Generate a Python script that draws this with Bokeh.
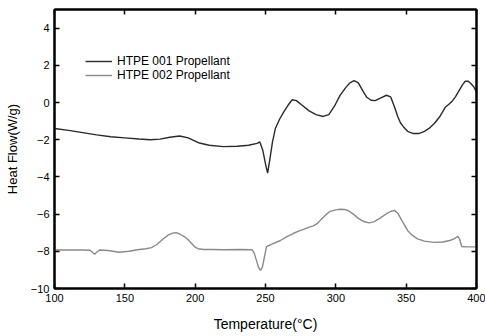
from bokeh.plotting import figure
from bokeh.models import FixedTicker, LinearAxis, Range1d, Legend, LegendItem
from bokeh.embed import file_html
from bokeh.resources import INLINE

# HTPE 001 Propellant
t1 = [100, 110, 120, 130, 140, 150, 160, 168, 175, 182, 189, 195, 203, 210, 220, 230,
      238, 244, 246, 248, 250, 251.5, 253, 255, 257, 260, 263, 266, 269, 272, 276, 281,
      286, 291, 295, 299, 303, 307, 310, 313, 316, 319, 322, 325, 328, 332, 336, 339,
      342, 344, 346, 348, 351, 355, 359, 363, 367, 370, 374, 378, 381, 383, 385, 387,
      390, 392, 394, 396, 398, 400]
y1 = [-1.4, -1.5, -1.62, -1.74, -1.84, -1.9, -1.96, -2.0, -1.97, -1.87, -1.8, -1.9,
      -2.18, -2.3, -2.37, -2.35, -2.3, -2.2, -2.12, -2.55, -3.3, -3.8, -3.1, -2.1,
      -1.4, -0.9, -0.5, -0.15, 0.15, 0.1, -0.15, -0.45, -0.65, -0.75, -0.65, -0.2,
      0.38, 0.8, 1.05, 1.17, 1.05, 0.65, 0.28, 0.12, 0.1, 0.25, 0.39, 0.3, -0.3,
      -0.75, -1.1, -1.3, -1.55, -1.67, -1.67, -1.55, -1.35, -1.13, -0.75, -0.24,
      -0.05, 0.1, 0.3, 0.56, 0.95, 1.14, 1.15, 1.02, 0.85, 0.55]

# HTPE 002 Propellant
t2 = [100, 110, 120, 125, 127, 128.5, 130, 132, 138, 146, 153, 159, 165, 169, 173,
      177, 181, 184, 186.5, 189, 192.5, 195, 197, 200, 202, 206, 212, 220, 232, 240.5,
      242, 243.6, 245, 246.4, 247.8, 249, 250.7, 255, 260.6, 265, 270, 274, 277, 281,
      284, 287, 290, 293, 296, 300, 303, 306, 309, 313, 316, 320, 323.5, 327, 331.5,
      336, 339, 341.7, 344, 347, 351, 354, 358, 363, 369.6, 376, 381, 384, 386.7,
      388, 389.5, 393, 400]
y2 = [-7.93, -7.93, -7.93, -7.94, -8.05, -8.16, -8.05, -7.93, -7.96, -8.05, -8.0,
      -7.92, -7.86, -7.8, -7.62, -7.35, -7.12, -7.02, -7.0, -7.07, -7.22, -7.38, -7.54,
      -7.78, -7.86, -7.9, -7.9, -7.92, -7.9, -7.92, -8.1, -8.5, -8.85, -9.02, -8.85,
      -8.4, -7.75, -7.6, -7.42, -7.23, -7.03, -6.9, -6.82, -6.7, -6.63, -6.5, -6.25,
      -6.03, -5.85, -5.77, -5.74, -5.75, -5.82, -6.03, -6.23, -6.4, -6.47, -6.42,
      -6.22, -5.98, -5.86, -5.8, -5.95, -6.35, -6.88, -7.12, -7.33, -7.45, -7.52,
      -7.5, -7.42, -7.33, -7.2, -7.35, -7.74, -7.76, -7.76]

x_ticks = [100, 150, 200, 250, 300, 350, 400]
y_ticks = [-10, -8, -6, -4, -2, 0, 2, 4]

FONT = "Liberation Sans"

p = figure(width=485, height=336, output_backend="svg", toolbar_location=None,
           x_range=Range1d(100, 400), y_range=Range1d(-10, 5),
           min_border_left=54, min_border_right=9, min_border_top=9,
           min_border_bottom=48)
p.xgrid.visible = False
p.ygrid.visible = False
p.outline_line_color = "black"
p.outline_line_width = 2
p.background_fill_color = "white"
p.border_fill_color = "white"

r1 = p.line(t1, y1, line_color="#2a2a2a", line_width=1.4)
r2 = p.line(t2, y2, line_color="#8a8a8a", line_width=1.4)

p.xaxis.axis_label = "Temperature(°C)"
p.yaxis.axis_label = "Heat Flow(W/g)"

def style(ax, labels=True):
    ax.axis_line_width = 2
    ax.axis_line_color = "black"
    ax.major_tick_in = 5
    ax.major_tick_out = 0
    ax.major_tick_line_width = 1.5
    ax.major_tick_line_color = "black"
    ax.minor_tick_line_color = None
    ax.major_label_text_font = FONT
    ax.major_label_text_font_size = "11px"
    ax.major_label_text_color = "black"
    ax.axis_label_text_font = FONT
    ax.axis_label_text_font_size = "14px"
    ax.axis_label_text_font_style = "normal"
    ax.axis_label_text_color = "black"
    if not labels:
        ax.major_label_text_font_size = "0px"
        ax.major_label_text_alpha = 0

style(p.xaxis[0])
style(p.yaxis[0])
p.yaxis.axis_label_text_font_size = "13px"
p.xaxis.ticker = FixedTicker(ticks=x_ticks)
p.yaxis.ticker = FixedTicker(ticks=y_ticks)
p.xaxis.major_label_standoff = 5
p.yaxis.major_label_standoff = 5
p.xaxis.axis_label_standoff = 11
p.yaxis.axis_label_standoff = 8

top = LinearAxis(ticker=FixedTicker(ticks=x_ticks))
style(top, labels=False)
right = LinearAxis(ticker=FixedTicker(ticks=y_ticks))
style(right, labels=False)
p.add_layout(top, "above")
p.add_layout(right, "right")

legend = Legend(items=[LegendItem(label="HTPE 001 Propellant", renderers=[r1]),
                       LegendItem(label="HTPE 002 Propellant", renderers=[r2])],
                location=(31, 206), padding=0, margin=0, spacing=0,
                glyph_width=27, glyph_height=14, label_height=14,
                label_standoff=5, border_line_color=None,
                background_fill_alpha=0,
                label_text_font=FONT, label_text_font_size="12px",
                label_text_color="black")
p.add_layout(legend, "center")

open("out.html", "w").write(file_html(p, INLINE))
